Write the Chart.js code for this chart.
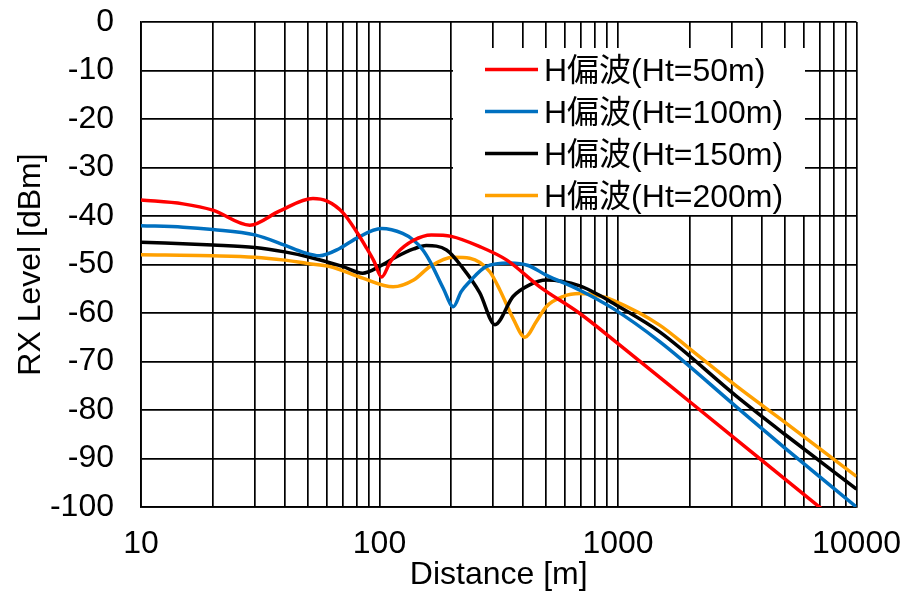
<!DOCTYPE html>
<html>
<head>
<meta charset="utf-8">
<script src="https://cdn.jsdelivr.net/npm/chart.js@4"></script>
<style>
  html, body { margin: 0; padding: 0; background: #fff; }
  #wrap { width: 915px; height: 594px; position: relative; }
</style>
</head>
<body>
<div id="wrap"><canvas id="c" width="915" height="594"></canvas></div>
<script>
// ---- data ----
const seriesLabels = ['H偏波(Ht=50m)', 'H偏波(Ht=100m)', 'H偏波(Ht=150m)', 'H偏波(Ht=200m)'];
const seriesColors = ['#FF0000', '#0070C0', '#000000', '#FFA000'];

const distRed  = [10, 15, 20, 28.6, 38, 52.6, 60, 70.5, 80, 88, 95, 102, 110.6, 118, 139, 165, 200, 263, 342, 470, 692, 1000, 2000, 5000, 10000];
const levelRed = [-36.7, -37.5, -38.8, -41.9, -39.0, -36.4, -36.9, -39.4, -43.2, -46.5, -49.4, -52.6, -49.6, -47.7, -45.0, -43.9, -44.2, -46.3, -49.1, -54.6, -60.1, -66.3, -78.3, -94.2, -106.2];

const distBlue  = [10, 15, 20, 30, 40, 48, 56, 68, 80, 102, 125, 139, 152, 163, 185, 204, 220, 239, 281, 350, 420, 500, 692, 955, 1495, 3162, 5000, 10000];
const levelBlue = [-42.0, -42.3, -42.8, -43.9, -46.0, -47.5, -48.2, -46.7, -44.6, -42.6, -43.6, -45.0, -47.0, -49.4, -54.9, -58.7, -55.6, -53.5, -50.4, -49.7, -50.2, -52.2, -55.3, -59.1, -65.9, -79.5, -87.8, -100.0];

const distBlack  = [10, 20, 30, 40, 50, 70, 85, 100, 118, 139, 157, 191, 224, 263, 305, 363, 426, 500, 692, 840, 955, 1495, 3162, 5000, 10000];
const levelBlack = [-45.4, -46.0, -46.5, -47.4, -48.4, -50.4, -51.8, -50.4, -48.4, -46.8, -46.1, -47.0, -50.8, -55.8, -62.4, -56.6, -54.2, -53.2, -54.4, -56.4, -58.0, -63.9, -77.3, -85.0, -96.3];

const distOrange  = [10, 20, 30, 40, 50, 62, 85, 114, 139, 163, 204, 239, 290, 320, 363, 407, 454, 500, 588, 692, 840, 955, 1495, 2000, 3162, 5000, 10000];
const levelOrange = [-48.0, -48.2, -48.5, -49.1, -49.8, -50.4, -52.8, -54.6, -53.2, -50.4, -48.5, -48.7, -51.5, -55.3, -61.1, -65.0, -61.8, -58.7, -56.6, -56.0, -56.5, -57.4, -62.5, -67.4, -75.2, -82.5, -93.7];

const xMin = 10, xMax = 10000;
const yMin = -100, yMax = 0, yStep = 10;
const xTitle = 'Distance [m]';
const yTitle = 'RX Level [dBm]';

// ---- build chart ----
const FONT = '"Liberation Sans", Arial, "Noto Sans CJK JP", sans-serif';
const allDist = [distRed, distBlue, distBlack, distOrange];
const allLevel = [levelRed, levelBlue, levelBlack, levelOrange];

const datasets = seriesLabels.map((lab, i) => ({
  label: lab,
  data: allDist[i].map((d, j) => ({ x: d, y: allLevel[i][j] })),
  borderColor: seriesColors[i],
  backgroundColor: seriesColors[i],
  borderWidth: 3.5,
  pointRadius: 0,
  fill: false,
  cubicInterpolationMode: 'monotone'
}));

const boxLegend = {
  id: 'boxLegend',
  afterDatasetsDraw(chart) {
    const ctx = chart.ctx;
    ctx.save();
    ctx.fillStyle = '#ffffff';
    ctx.fillRect(453, 48, 352, 167);
    ctx.font = '32px ' + FONT;
    ctx.textBaseline = 'alphabetic';
    ctx.textAlign = 'left';
    chart.data.datasets.forEach((ds, i) => {
      const y = 69.5 + 42 * i;
      ctx.strokeStyle = ds.borderColor;
      ctx.lineWidth = 3.5;
      ctx.beginPath();
      ctx.moveTo(485, y);
      ctx.lineTo(538, y);
      ctx.stroke();
      ctx.fillStyle = '#000';
      ctx.fillText(ds.label, 544, y + 11.5);
    });
    ctx.restore();
  }
};

new Chart(document.getElementById('c'), {
  type: 'line',
  data: { datasets },
  plugins: [boxLegend],
  options: {
    responsive: false,
    animation: false,
    layout: { padding: 0 },
    plugins: { legend: { display: false }, tooltip: { enabled: false } },
    scales: {
      x: {
        type: 'logarithmic',
        min: xMin, max: xMax,
        afterBuildTicks(scale) {
          const t = [];
          for (let p = xMin; p < xMax; p *= 10) {
            for (let k = 1; k < 10; k++) t.push({ value: p * k });
          }
          t.push({ value: xMax });
          scale.ticks = t;
        },
        afterFit(scale) {
          scale.height = 87;
          scale.paddingLeft = 0;
          scale.paddingRight = 58.5;
        },
        ticks: {
          autoSkip: false, maxRotation: 0, minRotation: 0,
          padding: 18,
          color: '#000',
          font: { family: FONT, size: 32 },
          callback(v) {
            const l = Math.log10(v);
            return Math.abs(l - Math.round(l)) < 1e-9 ? String(Math.round(v)) : '';
          }
        },
        grid: { color: '#000', lineWidth: 1.7, drawTicks: false },
        border: { color: '#000', width: 1.8 },
        title: { display: true, text: xTitle, color: '#000', font: { family: FONT, size: 32 }, padding: { top: 0, bottom: 0 } }
      },
      y: {
        type: 'linear',
        min: yMin, max: yMax,
        afterFit(scale) {
          scale.width = 141;
          scale.paddingTop = 22;
          scale.paddingBottom = 0;
        },
        ticks: {
          stepSize: yStep,
          padding: 27,
          color: '#000',
          font: { family: FONT, size: 32 },
          callback(v) { return String(v); }
        },
        grid: { color: '#000', lineWidth: 1.7, drawTicks: false },
        border: { color: '#000', width: 1.8 },
        title: { display: true, text: yTitle, color: '#000', font: { family: FONT, size: 32 }, padding: { top: 12, bottom: 0 } }
      }
    }
  }
});
</script>
</body>
</html>
